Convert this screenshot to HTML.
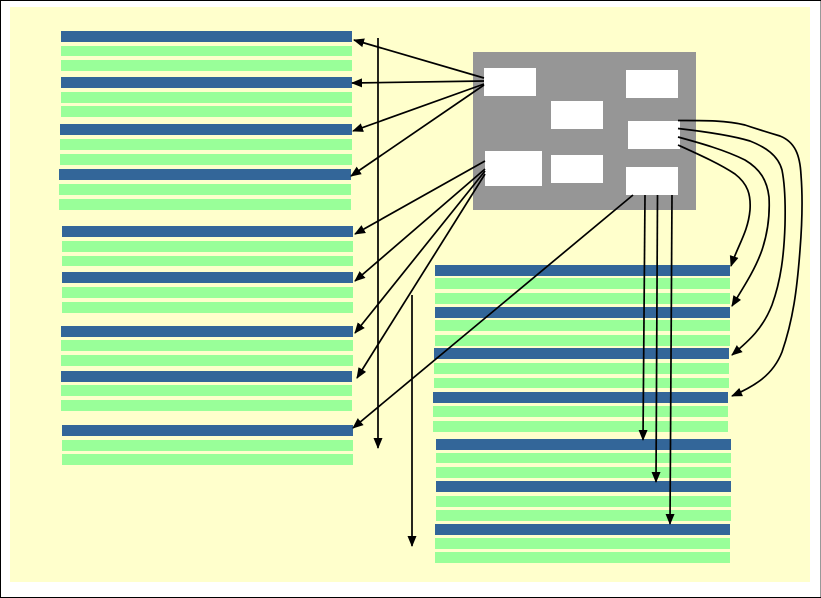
<!DOCTYPE html>
<html>
<head>
<meta charset="utf-8">
<style>
html,body{margin:0;padding:0;background:#fff}
svg{display:block}
</style>
</head>
<body>
<svg xmlns="http://www.w3.org/2000/svg" width="821" height="598" viewBox="0 0 821 598">
<defs>
<marker id="a" markerUnits="userSpaceOnUse" markerWidth="13" markerHeight="11" refX="10" refY="5" orient="auto">
<path d="M0 0.500L11 5L0 9.500Z" fill="#000"/>
</marker>
</defs>
<rect width="821" height="598" fill="#fff"/>
<rect x="0" y="0" width="821" height="1" fill="#000"/>
<rect x="0" y="0" width="1" height="598" fill="#000"/>
<rect x="0" y="597" width="821" height="1" fill="#000"/>
<rect x="820" y="1" width="1" height="596" fill="#999"/>
<rect x="10" y="7" width="800" height="575" fill="#ffc"/>

<g fill="#369">
<rect x="61" y="31" width="291" height="11"/>
<rect x="61" y="77" width="291" height="11"/>
<rect x="60" y="124" width="292" height="11"/>
<rect x="59" y="169" width="292" height="11"/>
<rect x="62" y="226" width="291" height="11"/>
<rect x="62" y="272" width="291" height="11"/>
<rect x="61" y="326" width="292" height="11"/>
<rect x="61" y="371" width="291" height="11"/>
<rect x="62" y="425" width="291" height="11"/>
<rect x="435" y="265" width="295" height="11"/>
<rect x="435" y="307" width="295" height="11"/>
<rect x="434" y="348" width="295" height="11"/>
<rect x="433" y="392" width="295" height="11"/>
<rect x="436" y="439" width="295" height="11"/>
<rect x="436" y="481" width="295" height="11"/>
<rect x="435" y="524" width="295" height="11"/>
</g>
<g fill="#9f9">
<rect x="61" y="46" width="291" height="10"/>
<rect x="61" y="60" width="291" height="11"/>
<rect x="61" y="92" width="291" height="11"/>
<rect x="61" y="106" width="291" height="11"/>
<rect x="60" y="139" width="292" height="11"/>
<rect x="60" y="154" width="292" height="11"/>
<rect x="59" y="184" width="292" height="11"/>
<rect x="59" y="199" width="292" height="11"/>
<rect x="62" y="241" width="291" height="11"/>
<rect x="62" y="256" width="291" height="10"/>
<rect x="62" y="287" width="291" height="11"/>
<rect x="62" y="302" width="291" height="11"/>
<rect x="61" y="340" width="292" height="11"/>
<rect x="61" y="355" width="292" height="11"/>
<rect x="61" y="385" width="291" height="11"/>
<rect x="61" y="400" width="291" height="11"/>
<rect x="62" y="440" width="291" height="11"/>
<rect x="62" y="454" width="291" height="11"/>
<rect x="435" y="278" width="295" height="11"/>
<rect x="435" y="293" width="295" height="11"/>
<rect x="435" y="320" width="295" height="11"/>
<rect x="435" y="335" width="295" height="11"/>
<rect x="434" y="363" width="295" height="11"/>
<rect x="434" y="378" width="295" height="10"/>
<rect x="433" y="406" width="295" height="11"/>
<rect x="433" y="421" width="295" height="11"/>
<rect x="436" y="453" width="295" height="10"/>
<rect x="436" y="467" width="295" height="11"/>
<rect x="436" y="496" width="295" height="11"/>
<rect x="436" y="510" width="295" height="11"/>
<rect x="435" y="538" width="295" height="11"/>
<rect x="435" y="552" width="295" height="11"/>
</g>

<rect x="473" y="52" width="223" height="158" fill="#969696"/>
<g fill="#fff">
<rect x="484" y="68" width="52" height="28"/>
<rect x="551" y="101" width="52" height="28"/>
<rect x="626" y="70" width="52" height="28"/>
<rect x="628" y="121" width="52" height="28"/>
<rect x="485" y="151" width="57" height="35"/>
<rect x="551" y="155" width="52" height="28"/>
<rect x="626" y="167" width="52" height="28"/>
</g>

<g fill="none" stroke="#000" stroke-width="1.7" marker-end="url(#a)">
<path d="M484 78L354 40"/>
<path d="M484 81L352 83"/>
<path d="M484 84L353 131"/>
<path d="M484 85L351 176"/>
<path d="M485 161L355 234"/>
<path d="M485 169L355 281"/>
<path d="M485 171L355 333"/>
<path d="M485 174L357 378"/>
<path d="M633 195L353 428"/>
<path d="M378 38L378 448"/>
<path d="M412 295L412 546"/>
<path d="M645 195L643 440"/>
<path d="M657.5 195L656 482"/>
<path d="M672 195L670 524"/>
<path d="M678 120.5C700 120.5 725 120 745 125C760 130 770 133 780 136C795 142 800 155 801 175C803 200 802 225 800 250C797 290 793 320 782 352C773 375 755 386 732 396"/>
<path d="M678 128.5C700 131 730 135 750 141C765 147 778 155 782 170C785 185 785.500 205 785 225C784 255 781 280 772 305C763 328 750 340 732 355"/>
<path d="M678 137C700 143 725 150 745 160C760 169 767 180 769 197C770 215 768 232 762 250C755 270 743 288 732 306"/>
<path d="M678 145C700 155 720 164 735 174C748 184 751 195 750 210C748 232 738 245 731 266"/>
</g>
</svg>
</body>
</html>
